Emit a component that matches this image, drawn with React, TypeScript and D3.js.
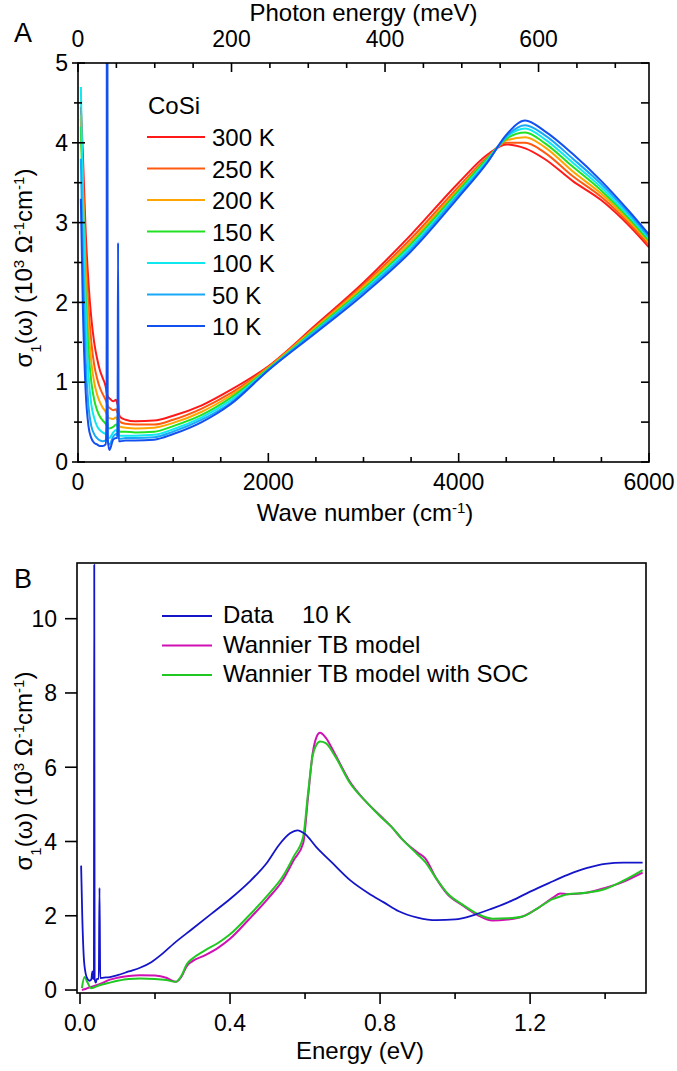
import React from "react";
import * as d3 from "d3";

// ---------- Panel A data (CoSi optical conductivity, 10^3 Ω^-1 cm^-1) ----------
const WAVE = [30, 50, 80, 110, 140, 170, 200, 230, 260, 290, 300, 306, 312, 330, 370, 400, 415, 421, 427, 445, 500, 600, 800, 1000, 1300, 1600, 2000, 2500, 3000, 3500, 4000, 4300, 4500, 4700, 4900, 5200, 5500, 5800, 6000];
const S300 = [4.45, 3.9, 2.9, 2.25, 1.8, 1.5, 1.3, 1.15, 1.05, 0.95, 0.88, 0.85, 0.82, 0.8, 0.76, 0.78, 0.72, 0.75, 0.62, 0.56, 0.53, 0.51, 0.52, 0.58, 0.71, 0.9, 1.2, 1.72, 2.25, 2.85, 3.5, 3.85, 3.98, 3.93, 3.8, 3.52, 3.28, 2.95, 2.69];
const S250 = [4.3, 3.6, 2.6, 1.95, 1.5, 1.22, 1.05, 0.93, 0.85, 0.78, 0.75, 0.73, 0.7, 0.68, 0.65, 0.66, 0.62, 0.66, 0.55, 0.5, 0.48, 0.47, 0.47, 0.53, 0.67, 0.86, 1.19, 1.7, 2.22, 2.8, 3.45, 3.82, 4.0, 4.0, 3.88, 3.58, 3.32, 2.98, 2.72];
const S200 = [4.35, 3.5, 2.4, 1.7, 1.25, 1.0, 0.85, 0.75, 0.68, 0.63, 0.6, 0.6, 0.57, 0.55, 0.54, 0.56, 0.53, 0.58, 0.47, 0.44, 0.43, 0.42, 0.43, 0.49, 0.63, 0.83, 1.18, 1.69, 2.2, 2.76, 3.42, 3.8, 4.03, 4.07, 3.95, 3.64, 3.36, 3.01, 2.75];
const S150 = [4.2, 3.3, 2.1, 1.4, 1.0, 0.78, 0.65, 0.57, 0.52, 0.48, 0.46, 0.5, 0.44, 0.42, 0.44, 0.47, 0.45, 0.52, 0.4, 0.38, 0.38, 0.37, 0.38, 0.45, 0.59, 0.8, 1.17, 1.67, 2.17, 2.73, 3.4, 3.8, 4.05, 4.13, 4.0, 3.7, 3.4, 3.04, 2.77];
const S100 = [4.7, 3.4, 1.9, 1.1, 0.72, 0.55, 0.45, 0.4, 0.37, 0.35, 0.34, 0.45, 0.32, 0.3, 0.37, 0.4, 0.38, 0.5, 0.34, 0.33, 0.33, 0.33, 0.34, 0.41, 0.56, 0.77, 1.16, 1.65, 2.15, 2.7, 3.37, 3.78, 4.07, 4.18, 4.05, 3.75, 3.44, 3.07, 2.8];
const S50 = [3.8, 2.6, 1.3, 0.7, 0.45, 0.35, 0.3, 0.27, 0.26, 0.27, 0.3, 0.8, 0.25, 0.22, 0.32, 0.35, 0.33, 0.9, 0.3, 0.29, 0.3, 0.3, 0.31, 0.38, 0.53, 0.74, 1.15, 1.64, 2.13, 2.67, 3.35, 3.76, 4.08, 4.22, 4.1, 3.8, 3.48, 3.1, 2.82];
const S10 = [3.3, 2.0, 0.9, 0.45, 0.3, 0.24, 0.22, 0.2, 0.2, 0.22, 0.5, 12.0, 0.3, 0.15, 0.28, 0.3, 0.3, 2.75, 0.26, 0.26, 0.27, 0.27, 0.28, 0.35, 0.5, 0.72, 1.15, 1.62, 2.1, 2.64, 3.32, 3.75, 4.1, 4.28, 4.15, 3.86, 3.52, 3.13, 2.85];
const TEMPS = ["300 K", "250 K", "200 K", "150 K", "100 K", "50 K", "10 K"];
const SERIES_A = [S300, S250, S200, S150, S100, S50, S10];
const COLORS_A = ["#ff1a1a", "#ff5a10", "#ffa500", "#22e022", "#10e8f0", "#18a8f8", "#1450f0"];

const A_X_TICKS = [0, 2000, 4000, 6000];
const A_X_MINOR = [500, 1000, 1500, 2500, 3000, 3500, 4500, 5000, 5500];
const A_Y_TICKS = [0, 1, 2, 3, 4, 5];
const A_Y_MINOR = [0.5, 1.5, 2.5, 3.5, 4.5];
const MEV_TICKS = [0, 200, 400, 600];
const MEV_MINOR = [50, 100, 150, 250, 300, 350, 450, 500, 550, 650, 700];
const CM_PER_MEV = 8.06554;

// ---------- Panel B data ----------
const E_DATA = [0.003, 0.006, 0.01, 0.015, 0.02, 0.025, 0.03, 0.033, 0.035, 0.037, 0.038, 0.039, 0.042, 0.045, 0.05, 0.052, 0.054, 0.06, 0.08, 0.1, 0.13, 0.16, 0.19, 0.22, 0.25, 0.3, 0.35, 0.4, 0.45, 0.5, 0.53, 0.56, 0.58, 0.6, 0.63, 0.67, 0.72, 0.77, 0.81, 0.85, 0.9, 0.95, 1.0, 1.05, 1.1, 1.15, 1.2, 1.25, 1.3, 1.35, 1.4, 1.45, 1.5];
const SIG_DATA = [3.35, 2.0, 0.9, 0.45, 0.3, 0.25, 0.28, 0.5, 0.3, 0.3, 11.45, 0.3, 0.2, 0.3, 0.3, 2.75, 0.32, 0.33, 0.35, 0.4, 0.5, 0.6, 0.75, 0.98, 1.25, 1.65, 2.05, 2.45, 2.9, 3.45, 3.9, 4.22, 4.3, 4.2, 3.85, 3.45, 2.96, 2.6, 2.36, 2.12, 1.95, 1.88, 1.9, 2.02, 2.2, 2.4, 2.65, 2.88, 3.1, 3.28, 3.4, 3.43, 3.43];
const E_MODEL = [0.005, 0.012, 0.02, 0.03, 0.05, 0.08, 0.1, 0.13, 0.16, 0.2, 0.23, 0.255, 0.27, 0.285, 0.3, 0.33, 0.37, 0.4, 0.45, 0.5, 0.54, 0.57, 0.595, 0.608, 0.62, 0.63, 0.64, 0.655, 0.68, 0.72, 0.76, 0.8, 0.83, 0.86, 0.9, 0.92, 0.95, 0.98, 1.02, 1.06, 1.1, 1.14, 1.18, 1.22, 1.26, 1.28, 1.3, 1.35, 1.4, 1.45, 1.5];
const SIG_WANNIER = [0.0, 0.02, 0.05, 0.08, 0.15, 0.28, 0.33, 0.38, 0.4, 0.39, 0.33, 0.22, 0.35, 0.65, 0.78, 0.92, 1.15, 1.38, 1.9, 2.45, 2.95, 3.5, 3.95, 5.2, 6.35, 6.8, 6.93, 6.8, 6.35, 5.6, 5.1, 4.7, 4.4, 4.05, 3.7, 3.55, 3.0, 2.58, 2.28, 2.02, 1.87, 1.9, 1.98, 2.2, 2.48, 2.6, 2.58, 2.62, 2.75, 2.92, 3.16];
const SIG_SOC = [0.05, 0.35, 0.2, 0.05, 0.12, 0.2, 0.25, 0.3, 0.31, 0.3, 0.27, 0.22, 0.38, 0.7, 0.85, 1.05, 1.28, 1.5, 2.0, 2.55, 3.05, 3.6, 4.13, 5.3, 6.3, 6.6, 6.69, 6.65, 6.3, 5.57, 5.1, 4.68, 4.4, 4.05, 3.65, 3.45, 3.0, 2.6, 2.3, 2.05, 1.92, 1.93, 1.98, 2.2, 2.45, 2.52, 2.58, 2.62, 2.72, 2.95, 3.23];
const B_LEGEND = ["Data", "Wannier TB model", "Wannier TB model with SOC"];
const COLORS_B = ["#1414c8", "#d010b4", "#22c822"];
const B_X_TICKS = [0, 0.4, 0.8, 1.2];
const B_X_MINOR = [0.2, 0.6, 1.0, 1.4];
const B_Y_TICKS = [0, 2, 4, 6, 8, 10];

const FONT = "'Liberation Sans', Arial, Helvetica, sans-serif";

function YTitle({ x, y }: { x: number; y: number }) {
  return (
    <text transform={`translate(${x},${y}) rotate(-90)`} textAnchor="middle" fontSize={24} fontFamily={FONT}>
      σ<tspan baselineShift="sub" fontSize={15}>1</tspan>
      <tspan>(ω) (10</tspan>
      <tspan baselineShift="super" fontSize={15}>3</tspan>
      <tspan> Ω</tspan>
      <tspan baselineShift="super" fontSize={15}>-1</tspan>
      <tspan>cm</tspan>
      <tspan baselineShift="super" fontSize={15}>-1</tspan>
      <tspan>)</tspan>
    </text>
  );
}

export default function App() {
  // Panel A scales
  const xA = d3.scaleLinear().domain([0, 6000]).range([78, 649]);
  const yA = d3.scaleLinear().domain([0, 5]).range([462, 63]);
  const [aL, aR] = xA.range();
  const [aB, aT] = yA.range();
  const lineA = (vals: number[]) =>
    d3
      .line<number>()
      .x((_, i) => xA(WAVE[i]))
      .y((v) => yA(v))
      .curve(d3.curveMonotoneX)(vals) || "";

  // Panel B scales
  const xB = d3.scaleLinear().domain([-0.008, 1.509]).range([77, 646]);
  const yB = d3.scaleLinear().domain([-0.08, 11.5]).range([993, 563]);
  const [bL, bR] = xB.range();
  const [bB, bT] = yB.range();
  const lineB = (xs: number[], vals: number[]) =>
    d3
      .line<number>()
      .x((_, i) => xB(xs[i]))
      .y((v) => yB(v))
      .curve(d3.curveMonotoneX)(vals) || "";

  const stroke = "#000";
  const sw = 1.6;

  return (
    <svg
      width={677}
      height={1071}
      style={{ position: "absolute", left: 0, top: 0, background: "#fff" }}
      fontFamily={FONT}
    >
      <defs>
        <clipPath id="clipA">
          <rect x={aL} y={aT} width={aR - aL} height={aB - aT} />
        </clipPath>
        <clipPath id="clipB">
          <rect x={bL} y={bT} width={bR - bL} height={bB - bT} />
        </clipPath>
      </defs>

      {/* ================= Panel A ================= */}
      <text x={14} y={42} fontSize={27}>A</text>
      <text x={(aL + aR) / 2} y={21} fontSize={24} textAnchor="middle">Photon energy (meV)</text>

      <g clipPath="url(#clipA)">
        {SERIES_A.map((s, i) => (
          <path key={i} d={lineA(s)} fill="none" stroke={COLORS_A[i]} strokeWidth={2} strokeLinejoin="round" />
        ))}
      </g>

      {/* frame */}
      <rect x={aL} y={aT} width={aR - aL} height={aB - aT} fill="none" stroke={stroke} strokeWidth={sw} />

      {/* bottom ticks (inside) */}
      {A_X_TICKS.map((t) => (
        <g key={"ax" + t}>
          <line x1={xA(t)} x2={xA(t)} y1={aB} y2={aB - 9} stroke={stroke} strokeWidth={sw} />
          <text x={xA(t)} y={490} fontSize={23} textAnchor="middle">{t}</text>
        </g>
      ))}
      {A_X_MINOR.map((t) => (
        <line key={"axm" + t} x1={xA(t)} x2={xA(t)} y1={aB} y2={aB - 5} stroke={stroke} strokeWidth={sw} />
      ))}
      <text x={365} y={521} fontSize={24} textAnchor="middle">
        Wave number (cm<tspan baselineShift="super" fontSize={15}>-1</tspan>)
      </text>

      {/* top ticks (photon energy, inside) */}
      {MEV_TICKS.map((t) => (
        <g key={"mev" + t}>
          <line x1={xA(t * CM_PER_MEV)} x2={xA(t * CM_PER_MEV)} y1={aT} y2={aT + 9} stroke={stroke} strokeWidth={sw} />
          <text x={xA(t * CM_PER_MEV)} y={47} fontSize={23} textAnchor="middle">{t}</text>
        </g>
      ))}
      {MEV_MINOR.map((t) => (
        <line key={"mevm" + t} x1={xA(t * CM_PER_MEV)} x2={xA(t * CM_PER_MEV)} y1={aT} y2={aT + 5} stroke={stroke} strokeWidth={sw} />
      ))}

      {/* left ticks */}
      {A_Y_TICKS.map((t) => (
        <g key={"ay" + t}>
          <line x1={aL - 6} x2={aL + 7} y1={yA(t)} y2={yA(t)} stroke={stroke} strokeWidth={sw} />
          <text x={68} y={yA(t)} dy="0.36em" fontSize={23} textAnchor="end">{t}</text>
        </g>
      ))}
      {A_Y_MINOR.map((t) => (
        <line key={"aym" + t} x1={aL - 4} x2={aL + 4} y1={yA(t)} y2={yA(t)} stroke={stroke} strokeWidth={sw} />
      ))}
      {/* right ticks (inside) */}
      {[...A_Y_TICKS, ...A_Y_MINOR].map((t) => (
        <line key={"ayr" + t} x1={aR} x2={aR - 8} y1={yA(t)} y2={yA(t)} stroke={stroke} strokeWidth={sw} />
      ))}
      <YTitle x={32} y={268} />

      {/* legend A */}
      <text x={148} y={114} fontSize={24}>CoSi</text>
      {TEMPS.map((t, i) => {
        const yy = 137 + i * 31.5;
        return (
          <g key={"lgA" + t}>
            <line x1={147} x2={205} y1={yy} y2={yy} stroke={COLORS_A[i]} strokeWidth={2} />
            <text x={212} y={yy + 9} fontSize={24}>{t}</text>
          </g>
        );
      })}

      {/* ================= Panel B ================= */}
      <text x={14} y={588} fontSize={27}>B</text>

      <g clipPath="url(#clipB)">
        <path d={lineB(E_MODEL, SIG_WANNIER)} fill="none" stroke={COLORS_B[1]} strokeWidth={2} />
        <path d={lineB(E_MODEL, SIG_SOC)} fill="none" stroke={COLORS_B[2]} strokeWidth={2} />
        <path d={lineB(E_DATA, SIG_DATA)} fill="none" stroke={COLORS_B[0]} strokeWidth={1.8} />
      </g>

      <rect x={bL} y={bT} width={bR - bL} height={bB - bT} fill="none" stroke={stroke} strokeWidth={sw} />

      {B_X_TICKS.map((t) => (
        <g key={"bx" + t}>
          <line x1={xB(t)} x2={xB(t)} y1={bB} y2={bB + 11} stroke={stroke} strokeWidth={sw} />
          <text x={xB(t)} y={1031} fontSize={23} textAnchor="middle">{t.toFixed(1)}</text>
        </g>
      ))}
      {B_X_MINOR.map((t) => (
        <line key={"bxm" + t} x1={xB(t)} x2={xB(t)} y1={bB} y2={bB + 6} stroke={stroke} strokeWidth={sw} />
      ))}
      <text x={360} y={1059} fontSize={24} textAnchor="middle">Energy (eV)</text>

      {B_Y_TICKS.map((t) => (
        <g key={"by" + t}>
          <line x1={bL} x2={bL - 12} y1={yB(t)} y2={yB(t)} stroke={stroke} strokeWidth={sw} />
          <text x={57} y={yB(t)} dy="0.36em" fontSize={23} textAnchor="end">{t}</text>
        </g>
      ))}
      <YTitle x={32} y={771} />

      {/* legend B */}
      {B_LEGEND.map((l, i) => {
        const yy = 616 + i * 29.5;
        return (
          <g key={"lgB" + i}>
            <line x1={162} x2={212} y1={yy} y2={yy} stroke={COLORS_B[i]} strokeWidth={2} />
            <text x={223} y={yy + 7} fontSize={24}>{l}</text>
          </g>
        );
      })}
      <text x={302} y={616 + 7} fontSize={24}>10 K</text>
    </svg>
  );
}
